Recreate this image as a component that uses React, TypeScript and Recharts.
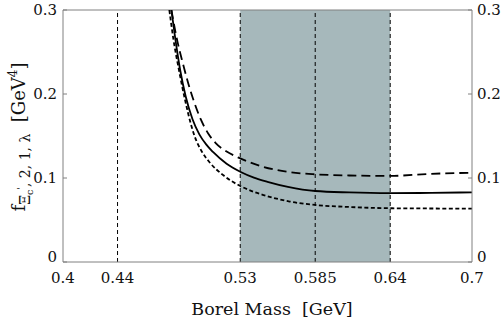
import React from "react";
import {
  LineChart,
  Line,
  XAxis,
  YAxis,
  ReferenceArea,
  ReferenceLine,
} from "recharts";

// Borel mass (GeV) and f values (GeV^4)
const centralX = [0.4795, 0.482, 0.486, 0.49, 0.495, 0.5, 0.505, 0.51, 0.52, 0.53, 0.54, 0.55, 0.565, 0.585, 0.61, 0.64, 0.67, 0.7];
const centralY = [0.3, 0.27, 0.228, 0.197, 0.17, 0.152, 0.14, 0.131, 0.117, 0.1075, 0.1005, 0.0955, 0.0895, 0.0845, 0.0828, 0.082, 0.0823, 0.083];

const upperX = [0.4795, 0.484, 0.488, 0.492, 0.4965, 0.501, 0.5065, 0.512, 0.52, 0.53, 0.5465, 0.5663, 0.585, 0.61, 0.64, 0.67, 0.7];
const upperY = [0.3, 0.262, 0.236, 0.212, 0.189, 0.17, 0.153, 0.1415, 0.1315, 0.1234, 0.1135, 0.107, 0.1044, 0.103, 0.1025, 0.105, 0.1063];

const lowerX = [0.478, 0.481, 0.485, 0.4895, 0.4935, 0.4965, 0.502, 0.5076, 0.5174, 0.53, 0.54, 0.5465, 0.5663, 0.585, 0.61, 0.64, 0.67, 0.7];
const lowerY = [0.3, 0.265, 0.229, 0.193, 0.166, 0.15, 0.131, 0.1185, 0.1035, 0.0905, 0.0835, 0.08, 0.072, 0.0679, 0.0655, 0.064, 0.0637, 0.0635];

const xTicks = [0.4, 0.44, 0.53, 0.585, 0.64, 0.7];
const yTicks = [0, 0.1, 0.2, 0.3];
const markerLines = [0.44, 0.53, 0.585, 0.64];
const windowRange = [0.53, 0.64];

const toPoints = (xs: number[], ys: number[]) => xs.map((x, i) => ({ x, y: ys[i] }));

const FONT = "DejaVu Serif";
const AXIS = "#808080";
const TICK_SIZE = 15;

const XTick = (props: any) => {
  const { x, y, payload } = props;
  return (
    <text x={x} y={y} dy={20.7} textAnchor="middle" fontFamily={FONT} fontSize={TICK_SIZE} fill="#111">
      {String(payload.value)}
    </text>
  );
};

const yShift = (v: number) => (v === 0 ? -5 : 0);

const LeftTick = (props: any) => {
  const { x, y, payload } = props;
  return (
    <g>
      <line x1={x} x2={x + 4} y1={y} y2={y} stroke={AXIS} />
      <text x={x - 6} y={y + yShift(payload.value)} dy="0.36em" textAnchor="end" fontFamily={FONT} fontSize={TICK_SIZE} fill="#111">
        {String(payload.value)}
      </text>
    </g>
  );
};

const RightTick = (props: any) => {
  const { x, y, payload } = props;
  return (
    <g>
      <line x1={x - 4} x2={x} y1={y} y2={y} stroke={AXIS} />
      <text x={x + 5} y={y + yShift(payload.value)} dy="0.36em" textAnchor="start" fontFamily={FONT} fontSize={TICK_SIZE} fill="#111">
        {String(payload.value)}
      </text>
    </g>
  );
};

export default function App() {
  return (
    <div style={{ position: "absolute", left: 0, top: 0, width: 502, height: 321, background: "#fff" }}>
      <LineChart width={502} height={321} margin={{ top: 10, right: 0, left: 0, bottom: 0 }}>
        <XAxis
          dataKey="x"
          type="number"
          domain={[0.4, 0.7]}
          ticks={xTicks}
          allowDataOverflow
          tickLine={false}
          tickSize={0}
          tickMargin={0}
          height={59}
          stroke={AXIS}
          tick={XTick}
          interval={0}
        />
        <YAxis
          yAxisId="left"
          type="number"
          domain={[0, 0.3]}
          ticks={yTicks}
          allowDataOverflow
          width={63}
          tickLine={false}
          tickSize={0}
          tickMargin={0}
          stroke={AXIS}
          tick={LeftTick}
          interval={0}
        />
        <YAxis
          yAxisId="right"
          orientation="right"
          type="number"
          domain={[0, 0.3]}
          ticks={yTicks}
          allowDataOverflow
          width={30}
          tickLine={false}
          tickSize={0}
          tickMargin={0}
          stroke={AXIS}
          tick={RightTick}
          interval={0}
        />
        <ReferenceArea
          yAxisId="left"
          x1={windowRange[0]}
          x2={windowRange[1]}
          y1={0}
          y2={0.3}
          fill="#a6b8bb"
          fillOpacity={1}
          stroke="none"
        />
        {markerLines.map((m) => (
          <ReferenceLine key={m} yAxisId="left" x={m} stroke="#000" strokeWidth={1} strokeDasharray="4 3" />
        ))}
        <ReferenceLine yAxisId="left" y={0.3} stroke={AXIS} strokeWidth={1} />
        <Line
          yAxisId="left"
          data={toPoints(upperX, upperY)}
          dataKey="y"
          type="monotone"
          stroke="#000"
          strokeWidth={1.8}
          strokeDasharray="9 5"
          dot={false}
          isAnimationActive={false}
        />
        <Line
          yAxisId="left"
          data={toPoints(centralX, centralY)}
          dataKey="y"
          type="monotone"
          stroke="#000"
          strokeWidth={1.8}
          dot={false}
          isAnimationActive={false}
        />
        <Line
          yAxisId="left"
          data={toPoints(lowerX, lowerY)}
          dataKey="y"
          type="monotone"
          stroke="#000"
          strokeWidth={1.8}
          strokeDasharray="4 2.5"
          dot={false}
          isAnimationActive={false}
        />
      </LineChart>
      <svg width={502} height={321} style={{ position: "absolute", left: 0, top: 0, pointerEvents: "none" }}>
        <text x={272} y={315} textAnchor="middle" fontFamily={FONT} fontSize={17.5} fill="#111">
          Borel Mass{"\u00a0\u00a0"}[GeV]
        </text>
        <text transform="rotate(-90)" x={-137} y={25} textAnchor="middle" fontFamily={FONT} fontSize={18} fill="#111">
          f
          <tspan fontSize={14} dy={5}>Ξ</tspan>
          <tspan fontSize={9.5} dy={3}>c</tspan>
          <tspan fontSize={9.5} dy={-9}>&apos;</tspan>
          <tspan fontSize={14} dy={6}>, 2, 1, λ</tspan>
          <tspan fontSize={18} dy={-5}>{"\u00a0\u00a0"}[GeV</tspan>
          <tspan fontSize={12} dy={-8}>4</tspan>
          <tspan fontSize={18} dy={8}>]</tspan>
        </text>
      </svg>
    </div>
  );
}
